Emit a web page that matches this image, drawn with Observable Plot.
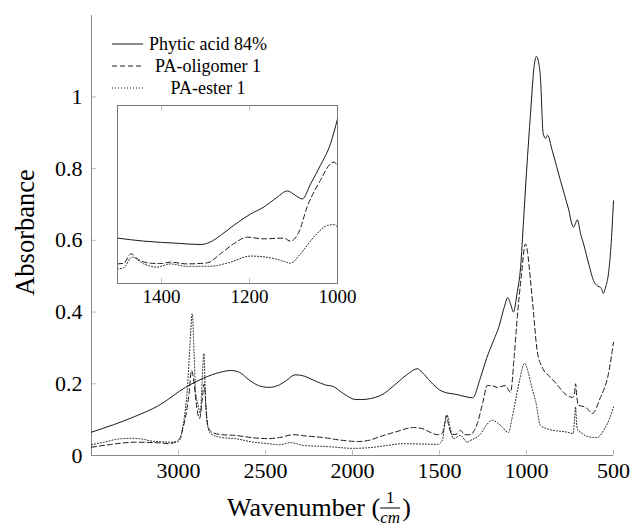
<!DOCTYPE html>
<html>
<head>
<meta charset="utf-8">
<script src="https://cdn.jsdelivr.net/npm/d3@7"></script>
<script src="https://cdn.jsdelivr.net/npm/@observablehq/plot@0.6"></script>
<style>
  html, body { margin: 0; padding: 0; background: #fff; }
  #wrap { position: relative; width: 633px; height: 529px; overflow: hidden; font-family: "Liberation Serif", serif; }
  #wrap svg { position: absolute; overflow: visible; }
  #wrap svg text { font-family: "Liberation Serif", serif; }
</style>
</head>
<body>
<div id="wrap"></div>
<script>
// ---------- data ----------
const seriesNames = ["Phytic acid 84%", "PA-oligomer 1", "PA-ester 1"];

const xTicks = [3000, 2500, 2000, 1500, 1000, 500];
const yTicks = [0, 0.2, 0.4, 0.6, 0.8, 1];
const xDomain = [3500, 500];
const yDomain = [0, 1.227];

const insetTicks = [1400, 1200, 1000];
const insetDomain = [1500, 1000];
const insetYDomain = [0, 1];

// [wavenumber, absorbance]
const phytic = [
  [3500,0.065],[3250,0.109],[3115,0.139],[2960,0.19],[2860,0.215],[2760,0.232],[2700,0.237],
  [2650,0.232],[2600,0.213],[2540,0.195],[2480,0.19],[2420,0.197],[2380,0.209],[2330,0.225],
  [2300,0.224],[2200,0.205],[2140,0.195],[2120,0.194],[2050,0.172],[1980,0.156],[1950,0.156],
  [1840,0.167],[1750,0.2],[1680,0.228],[1628,0.242],[1600,0.232],[1550,0.205],[1500,0.183],
  [1480,0.178],[1400,0.17],[1330,0.162],[1310,0.161],[1264,0.218],[1230,0.27],[1190,0.32],
  [1160,0.357],[1130,0.41],[1108,0.44],[1090,0.42],[1075,0.40],[1055,0.45],[1034,0.525],
  [1017,0.655],[1000,0.79],[977,0.953],[955,1.09],[943,1.113],[930,1.095],[920,1.055],
  [904,0.897],[890,0.885],[879,0.893],[852,0.85],[805,0.767],[760,0.69],[730,0.637],
  [707,0.657],[690,0.62],[672,0.59],[640,0.53],[615,0.488],[590,0.472],[575,0.469],
  [565,0.46],[559,0.452],[545,0.47],[529,0.507],[515,0.58],[500,0.71]
];
const oligomer = [
  [3500,0.023],[3400,0.03],[3250,0.037],[3100,0.035],[3057,0.033],[3010,0.04],[2990,0.05],
  [2975,0.075],[2960,0.106],[2940,0.17],[2925,0.237],[2910,0.2],[2900,0.153],[2879,0.103],
  [2865,0.15],[2852,0.2],[2840,0.12],[2830,0.08],[2806,0.064],[2750,0.058],[2672,0.056],
  [2580,0.05],[2483,0.047],[2420,0.05],[2340,0.058],[2280,0.055],[2167,0.05],[2070,0.043],
  [1971,0.039],[1900,0.043],[1839,0.053],[1750,0.066],[1649,0.078],[1600,0.075],[1550,0.064],
  [1511,0.058],[1484,0.062],[1470,0.09],[1460,0.112],[1450,0.09],[1427,0.058],[1400,0.06],
  [1379,0.07],[1355,0.058],[1322,0.058],[1300,0.07],[1283,0.089],[1250,0.15],[1226,0.195],
  [1200,0.195],[1169,0.19],[1121,0.195],[1100,0.18],[1092,0.176],[1070,0.28],[1053,0.385],
  [1030,0.5],[1006,0.59],[995,0.57],[977,0.488],[960,0.4],[939,0.293],[910,0.246],[862,0.218],
  [820,0.195],[787,0.176],[737,0.162],[725,0.17],[718,0.2],[710,0.16],[701,0.14],[661,0.135],
  [640,0.125],[622,0.117],[575,0.162],[529,0.228],[500,0.316]
];
const ester = [
  [3500,0.03],[3420,0.038],[3345,0.046],[3266,0.048],[3200,0.045],[3151,0.04],[3017,0.037],
  [2990,0.045],[2979,0.07],[2960,0.13],[2950,0.18],[2935,0.3],[2921,0.395],[2910,0.28],
  [2902,0.18],[2887,0.14],[2874,0.117],[2865,0.2],[2854,0.284],[2845,0.16],[2835,0.09],
  [2816,0.061],[2750,0.05],[2672,0.047],[2580,0.038],[2483,0.033],[2420,0.03],[2356,0.036],
  [2282,0.028],[2150,0.025],[1994,0.02],[1900,0.022],[1800,0.028],[1707,0.033],[1600,0.032],
  [1511,0.031],[1484,0.042],[1466,0.098],[1456,0.112],[1440,0.08],[1420,0.047],[1379,0.056],
  [1341,0.037],[1322,0.042],[1264,0.06],[1230,0.085],[1197,0.098],[1149,0.084],[1103,0.064],
  [1085,0.1],[1063,0.153],[1040,0.21],[1011,0.257],[988,0.228],[970,0.19],[948,0.153],
  [920,0.084],[880,0.074],[845,0.07],[766,0.065],[732,0.061],[724,0.1],[718,0.135],[712,0.09],
  [705,0.07],[690,0.065],[651,0.053],[594,0.05],[557,0.07],[525,0.1],[500,0.135]
];

// inset (relative units, no y labels in the original)
const insetPhytic = [
  [1500,0.255],[1440,0.238],[1364,0.226],[1311,0.219],[1290,0.232],[1266,0.27],[1236,0.326],
  [1198,0.39],[1167,0.43],[1137,0.485],[1114,0.52],[1095,0.494],[1080,0.475],[1061,0.56],
  [1039,0.663],[1016,0.785],[1000,0.925]
];
const insetOligomer = [
  [1500,0.11],[1486,0.114],[1469,0.167],[1455,0.139],[1425,0.114],[1400,0.112],[1380,0.12],
  [1342,0.11],[1296,0.116],[1266,0.167],[1236,0.223],[1205,0.26],[1167,0.251],[1122,0.255],
  [1107,0.238],[1088,0.288],[1069,0.43],[1039,0.579],[1016,0.672],[1008,0.682],[1000,0.663]
];
const insetEster = [
  [1500,0.082],[1486,0.088],[1467,0.148],[1440,0.11],[1410,0.092],[1380,0.11],[1342,0.096],
  [1289,0.097],[1243,0.12],[1198,0.154],[1152,0.144],[1122,0.125],[1107,0.114],[1084,0.167],
  [1054,0.26],[1023,0.326],[1008,0.331],[1000,0.316]
];

// ---------- styles ----------
const serif = "Liberation Serif";
const ink = "#1a1a1a";
const dashes = [null, "5,3", "1,2"];
const axisGrey = "#8a8a8a";
const tickGrey = "#bdbdbd";

const wrap = document.getElementById("wrap");

const lineMarks = (sets) => sets.map((data, i) =>
  Plot.line(data, {x: d => d[0], y: d => d[1], stroke: ink, strokeWidth: 1,
    strokeDasharray: dashes[i], curve: "monotone-x"}));

function setSerif(svg) {
  svg.setAttribute("font-family", serif);
  d3.select(svg).selectAll("g, text").attr("font-family", serif);
}

// ---------- main chart ----------
const main = Plot.plot({
  width: 633, height: 529,
  marginLeft: 91, marginRight: 20, marginTop: 15, marginBottom: 74,
  style: {background: "transparent", color: "#000"},
  x: {domain: xDomain},
  y: {domain: yDomain},
  marks: [
    Plot.axisX(xTicks, {tickSize: -5, tickPadding: 12, stroke: tickGrey, fill: "#000",
      fontSize: 22, tickFormat: d => String(d), label: null, textAnchor: "middle"}),
    Plot.axisY(yTicks, {tickSize: -5, tickPadding: 14, stroke: tickGrey, fill: "#000",
      fontSize: 22, tickFormat: d => String(d), label: null}),
    Plot.ruleX([xDomain[0]], {stroke: axisGrey, strokeWidth: 1}),
    Plot.ruleY([yDomain[0]], {stroke: axisGrey, strokeWidth: 1}),
    ...lineMarks([phytic, oligomer, ester]),
    Plot.text(["Absorbance"], {text: d => d, frameAnchor: "left", textAnchor: "middle",
      dx: -66, dy: -3, rotate: -90, fontSize: 26.5, fill: "#000"})
  ]
});
main.style.left = "0px"; main.style.top = "0px";
wrap.appendChild(main);

// x-axis title with a stacked fraction (placed after measuring)
const ms = d3.select(main);
const tg = ms.append("g").attr("fill", "#000");
const t1 = tg.append("text").attr("x", 227).attr("y", 516).attr("font-size", 26)
  .attr("font-family", serif).attr("text-anchor", "start").text("Wavenumber (");
const w1 = Math.min(t1.node().getComputedTextLength(), 175);
const fx = 227 + w1 + 10;
tg.append("text").attr("x", fx).attr("y", 503).attr("font-size", 17)
  .attr("text-anchor", "middle").text("1");
tg.append("line").attr("x1", fx - 10).attr("x2", fx + 10).attr("y1", 508).attr("y2", 508)
  .attr("stroke", "#000").attr("stroke-width", 1);
tg.append("text").attr("x", fx).attr("y", 523).attr("font-size", 17).attr("font-style", "italic")
  .attr("text-anchor", "middle").text("cm");
tg.append("text").attr("x", fx + 12).attr("y", 516).attr("font-size", 26)
  .attr("text-anchor", "start").text(")");

// legend
const lg = ms.append("g").attr("fill", "#000");
seriesNames.forEach((name, i) => {
  const y = 44 + i * 22;
  lg.append("line").attr("x1", 112).attr("x2", 143).attr("y1", y).attr("y2", y)
    .attr("stroke", ink).attr("stroke-width", 1).attr("stroke-dasharray", dashes[i]);
  lg.append("text").attr("x", 208).attr("y", y + 6).attr("font-size", 18)
    .attr("text-anchor", "middle").text(name);
});
setSerif(main);

// ---------- inset ----------
const inset = Plot.plot({
  width: 260, height: 210,
  marginLeft: 20, marginRight: 20, marginTop: 5, marginBottom: 27,
  style: {background: "transparent", color: "#000", overflow: "visible"},
  x: {domain: insetDomain, axis: null},
  y: {domain: insetYDomain, axis: null},
  marks: [
    Plot.frame({fill: "white"}),
    Plot.axisX(insetTicks, {anchor: "bottom", tickSize: -5, tickPadding: 11, stroke: tickGrey,
      fill: "#000", fontSize: 19, tickFormat: d => String(d), label: null}),
    Plot.axisX(insetTicks, {anchor: "top", tickSize: -5, stroke: tickGrey,
      tickFormat: () => "", label: null}),
    ...lineMarks([insetPhytic, insetOligomer, insetEster]),
    Plot.frame({stroke: "#777", strokeWidth: 1})
  ]
});
inset.style.left = "97px"; inset.style.top = "100px";
wrap.appendChild(inset);
setSerif(inset);
</script>
</body>
</html>
